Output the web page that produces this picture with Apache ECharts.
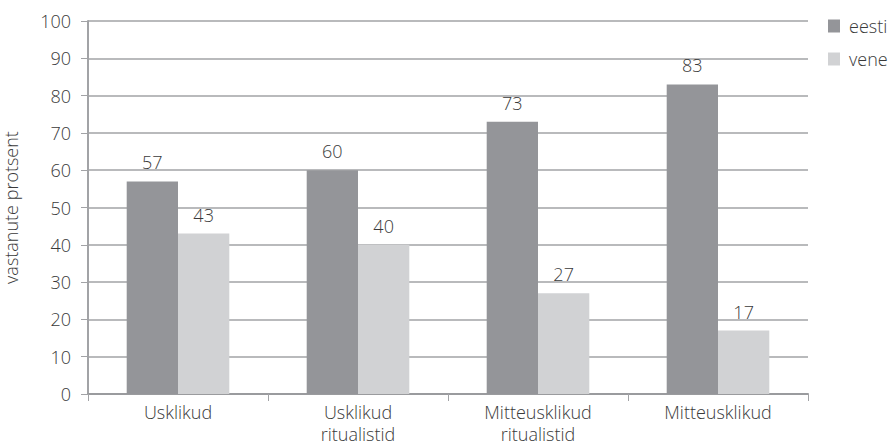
<!DOCTYPE html>
<html>
<head>
<meta charset="utf-8">
<script src="https://cdn.jsdelivr.net/npm/echarts@6/dist/echarts.min.js"></script>
<style>
  html, body { margin: 0; padding: 0; background: #fff; }
  #chart { width: 889px; height: 446px; }
</style>
</head>
<body>
<div id="chart"></div>
<script>
var categories = ['Usklikud', 'Usklikud\nritualistid', 'Mitteusklikud\nritualistid', 'Mitteusklikud'];
var eestiValues = [57, 60, 73, 83];
var veneValues = [43, 40, 27, 17];
var seriesNames = ['eesti', 'vene'];

(function() {
  var ink = '#3a3a3a';
  var rule = '#a2a3a6';
  var font = 'Open Sans';
  var fs = 18;

  var chart = echarts.init(document.getElementById('chart'), null, { renderer: 'svg' });
  chart.setOption({
    animation: false,
    textStyle: { fontFamily: font, fontWeight: 300 },
    legend: {
      orient: 'vertical',
      left: 823, top: 12,
      itemWidth: 12, itemHeight: 13,
      itemGap: 15,
      icon: 'rect',
      textStyle: { color: ink, fontSize: fs, fontFamily: font, fontWeight: 300, padding: [0, 0, 0, 4] },
      data: seriesNames
    },
    grid: { left: 88, right: 81, top: 21, bottom: 52, containLabel: false, outerBoundsMode: 'none' },
    xAxis: {
      type: 'category',
      data: categories,
      axisLine: { lineStyle: { color: '#9a9b9e', width: 2 } },
      axisTick: { show: true, length: 7, lineStyle: { color: rule } },
      axisLabel: { color: ink, fontSize: fs, fontFamily: font, fontWeight: 300, lineHeight: 22, margin: 7 }
    },
    yAxis: {
      type: 'value', min: 0, max: 100, interval: 10,
      name: 'vastanute protsent',
      nameLocation: 'middle',
      nameGap: 68,
      nameTextStyle: { color: ink, fontSize: 18, fontFamily: font, fontWeight: 300 },
      axisLine: { show: true, lineStyle: { color: rule, width: 2 } },
      axisTick: { show: true, length: 7, lineStyle: { color: rule } },
      axisLabel: { color: ink, fontSize: fs, fontFamily: font, fontWeight: 300, margin: 17 },
      splitLine: { lineStyle: { color: rule, width: 1.5 } }
    },
    series: [
      {
        name: seriesNames[0], type: 'bar', data: eestiValues,
        barGap: '0%', barCategoryGap: '43%',
        itemStyle: { color: '#949599' },
        label: { show: true, position: 'top', distance: 10, color: ink, fontSize: fs, fontFamily: font, fontWeight: 300 }
      },
      {
        name: seriesNames[1], type: 'bar', data: veneValues,
        barGap: '0%', barCategoryGap: '43%',
        itemStyle: { color: '#d1d2d4' },
        label: { show: true, position: 'top', distance: 10, color: ink, fontSize: fs, fontFamily: font, fontWeight: 300 }
      }
    ]
  });
  window.addEventListener('resize', function() { chart.resize(); });
})();
</script>
</body>
</html>
